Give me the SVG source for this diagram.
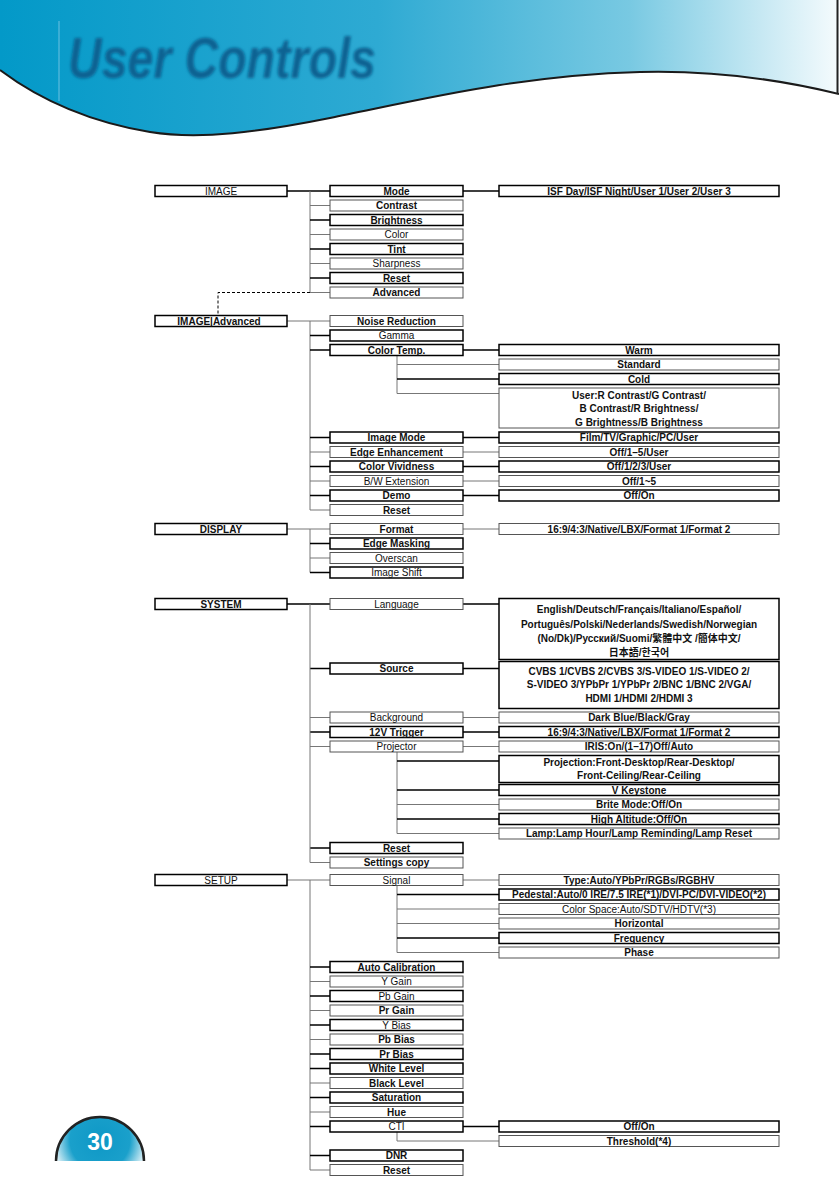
<svg xmlns="http://www.w3.org/2000/svg" width="839" height="1181" viewBox="0 0 839 1181">
<defs>
<linearGradient id="hdr" x1="0" y1="0" x2="1" y2="0">
<stop offset="0" stop-color="#0399c8"/>
<stop offset="0.45" stop-color="#2eaad3"/>
<stop offset="0.75" stop-color="#78c9e2"/>
<stop offset="1" stop-color="#f5fbfd"/>
</linearGradient>
<radialGradient id="pg" cx="100" cy="1140" r="50" gradientUnits="userSpaceOnUse">
<stop offset="0" stop-color="#0e98c6"/>
<stop offset="0.6" stop-color="#1aa0cb"/>
<stop offset="1" stop-color="#ffffff"/>
</radialGradient>
<filter id="blur" x="-10%" y="-20%" width="120%" height="140%"><feGaussianBlur stdDeviation="1.8"/></filter>
<style>
.k{fill:#fff;stroke:#000;stroke-width:1.5}
.g{fill:#fff;stroke:#555;stroke-width:1}
.ck{stroke:#000;stroke-width:1.5;fill:none}
.cg{stroke:#777;stroke-width:1;fill:none}
text{font-family:"Liberation Sans","Noto Sans CJK SC",Arial,sans-serif;font-size:10px;text-anchor:middle;fill:#111;font-weight:bold}
text.n{font-weight:normal}
</style>
</defs>

<g id="header">
<path d="M0,0 H839 V94 C790,82 720,70 640,72 C520,75 420,100 330,118 C260,132 200,140 150,132 C90,122 40,100 0,70 Z" fill="url(#hdr)"/>
<path d="M0,70 C40,100 90,122 150,132 C200,140 260,132 330,118 C420,100 520,75 640,72 C720,70 790,82 839,94" fill="none" stroke="#1a1a1a" stroke-width="2"/>
<line x1="837.5" y1="0" x2="837.5" y2="94" stroke="#222" stroke-width="2"/>
<line x1="59" y1="21" x2="59" y2="101" stroke="#6cc0e0" stroke-width="1"/>
<text x="222" y="78" filter="url(#blur)" style="font-family:'Liberation Sans',sans-serif;font-size:58px;font-style:italic;font-weight:bold;fill:#0a6292" textLength="308" lengthAdjust="spacingAndGlyphs">User Controls</text>
</g>

<g id="connectors">
<path class="ck" d="M287,191 H330 M463,191 H499"/>
<path class="cg" d="M310,191 V292.5"/>
<path class="cg" d="M310,205.5 H330 M310,234.5 H330 M310,263.5 H330 M310,292.5 H330"/>
<path class="ck" d="M310,220 H330 M310,249 H330 M310,278 H330"/>
<path d="M310,292.5 H218 V315.5" fill="none" stroke="#000" stroke-width="1" stroke-dasharray="3,2"/>

<path class="cg" d="M287,321 H330 M310,321 V510"/>
<path class="ck" d="M310,335.5 H330 M310,350 H330 M310,437.5 H330 M310,466.5 H330 M310,495.5 H330"/>
<path class="cg" d="M310,452 H330 M310,481 H330 M310,510 H330"/>
<path class="ck" d="M463,350 H499 M463,437.5 H499 M463,466.5 H499 M463,495.5 H499"/>
<path class="cg" d="M463,452 H499 M463,481 H499"/>
<path class="cg" d="M397,355.5 V393.5 M397,364.5 H499 M397,393.5 H499"/>
<path class="ck" d="M397,379 H499"/>

<path class="cg" d="M287,529 H330 M310,529 V572.5 M310,558 H330 M463,529 H499"/>
<path class="ck" d="M310,543.5 H330 M310,572.5 H330"/>

<path class="ck" d="M287,604 H330 M463,604 H499 M310,668.5 H330 M463,668.5 H499 M310,732 H330 M463,732 H499 M310,848 H330"/>
<path class="cg" d="M310,604 V862.5 M310,717.5 H330 M463,717.5 H499 M310,746.5 H330 M463,746.5 H499 M310,862.5 H330"/>
<path class="cg" d="M397,752 V833.5 M397,804.5 H499 M397,833.5 H499"/>
<path class="ck" d="M397,761 H499 M397,790 H499 M397,819 H499"/>

<path class="cg" d="M287,880 H330 M463,880 H499 M310,880 V1170"/>
<path class="cg" d="M397,885.5 V952.5 M397,909 H499 M397,923.5 H499 M397,952.5 H499"/>
<path class="ck" d="M397,894.5 H499 M397,938 H499"/>
<path class="ck" d="M310,967 H330 M310,996 H330 M310,1025 H330 M310,1054 H330 M310,1068.5 H330 M310,1097.5 H330 M310,1126.5 H330 M310,1155.5 H330 M463,1126.5 H499"/>
<path class="cg" d="M310,981.5 H330 M310,1010.5 H330 M310,1039.5 H330 M310,1083 H330 M310,1112 H330 M310,1170 H330"/>
<path class="cg" d="M397,1132 V1141 H499"/>
</g>

<g id="n-image"><rect class="k" x="155" y="185.5" width="132" height="11"/><text class="n" x="221" y="194.6">IMAGE</text></g>
<g id="n-mode"><rect class="k" x="330" y="185.5" width="133" height="11"/><text x="396.5" y="194.6">Mode</text></g>
<g id="n-contrast"><rect class="g" x="330" y="200" width="133" height="11"/><text x="396.5" y="209.1">Contrast</text></g>
<g id="n-brightness"><rect class="k" x="330" y="214.5" width="133" height="11"/><text x="396.5" y="223.6">Brightness</text></g>
<g id="n-color"><rect class="g" x="330" y="229" width="133" height="11"/><text class="n" x="396.5" y="238.1">Color</text></g>
<g id="n-tint"><rect class="k" x="330" y="243.5" width="133" height="11"/><text x="396.5" y="252.6">Tint</text></g>
<g id="n-sharpness"><rect class="g" x="330" y="258" width="133" height="11"/><text class="n" x="396.5" y="267.1">Sharpness</text></g>
<g id="n-reset1"><rect class="k" x="330" y="272.5" width="133" height="11"/><text x="396.5" y="281.6">Reset</text></g>
<g id="n-advanced"><rect class="g" x="330" y="287" width="133" height="11"/><text x="396.5" y="296.1">Advanced</text></g>
<g id="n-isf"><rect class="k" x="499" y="185.5" width="280" height="11"/><text x="639" y="194.6">ISF Day/ISF Night/User 1/User 2/User 3</text></g>

<g id="n-imgadv"><rect class="k" x="155" y="315.5" width="132" height="11"/><text x="219" y="324.6">IMAGE|Advanced</text></g>
<g id="n-noise"><rect class="g" x="330" y="315.5" width="133" height="11"/><text x="396.5" y="324.6">Noise Reduction</text></g>
<g id="n-gamma"><rect class="k" x="330" y="330" width="133" height="11"/><text class="n" x="396.5" y="339.1">Gamma</text></g>
<g id="n-colortemp"><rect class="k" x="330" y="344.5" width="133" height="11"/><text x="396.5" y="353.6">Color Temp.</text></g>
<g id="n-warm"><rect class="k" x="499" y="344.5" width="280" height="11"/><text x="639" y="353.6">Warm</text></g>
<g id="n-standard"><rect class="g" x="499" y="359" width="280" height="11"/><text x="639" y="368.1">Standard</text></g>
<g id="n-cold"><rect class="k" x="499" y="373.5" width="280" height="11"/><text x="639" y="382.6">Cold</text></g>
<g id="n-user"><rect class="g" x="499" y="388" width="280" height="40"/><text x="639" y="398.6">User:R Contrast/G Contrast/</text><text x="639" y="412.1">B Contrast/R Brightness/</text><text x="639" y="425.6">G Brightness/B Brightness</text></g>
<g id="n-imagemode"><rect class="k" x="330" y="432" width="133" height="11"/><text x="396.5" y="441.1">Image Mode</text></g>
<g id="n-film"><rect class="k" x="499" y="432" width="280" height="11"/><text x="639" y="441.1">Film/TV/Graphic/PC/User</text></g>
<g id="n-edge"><rect class="g" x="330" y="446.5" width="133" height="11"/><text x="396.5" y="455.6">Edge Enhancement</text></g>
<g id="n-edgeopt"><rect class="g" x="499" y="446.5" width="280" height="11"/><text x="639" y="455.6">Off/1–5/User</text></g>
<g id="n-vivid"><rect class="k" x="330" y="461" width="133" height="11"/><text x="396.5" y="470.1">Color Vividness</text></g>
<g id="n-vividopt"><rect class="k" x="499" y="461" width="280" height="11"/><text x="639" y="470.1">Off/1/2/3/User</text></g>
<g id="n-bw"><rect class="g" x="330" y="475.5" width="133" height="11"/><text class="n" x="396.5" y="484.6">B/W Extension</text></g>
<g id="n-bwopt"><rect class="g" x="499" y="475.5" width="280" height="11"/><text x="639" y="484.6">Off/1~5</text></g>
<g id="n-demo"><rect class="k" x="330" y="490" width="133" height="11"/><text x="396.5" y="499.1">Demo</text></g>
<g id="n-demoopt"><rect class="k" x="499" y="490" width="280" height="11"/><text x="639" y="499.1">Off/On</text></g>
<g id="n-reset2"><rect class="g" x="330" y="504.5" width="133" height="11"/><text x="396.5" y="513.6">Reset</text></g>

<g id="n-display"><rect class="k" x="155" y="523.5" width="132" height="11"/><text x="221" y="532.6">DISPLAY</text></g>
<g id="n-format"><rect class="g" x="330" y="523.5" width="133" height="11"/><text x="396.5" y="532.6">Format</text></g>
<g id="n-formatopt"><rect class="g" x="499" y="523.5" width="280" height="11"/><text x="639" y="532.6">16:9/4:3/Native/LBX/Format 1/Format 2</text></g>
<g id="n-edgemask"><rect class="k" x="330" y="538" width="133" height="11"/><text x="396.5" y="547.1">Edge Masking</text></g>
<g id="n-overscan"><rect class="g" x="330" y="552.5" width="133" height="11"/><text class="n" x="396.5" y="561.6">Overscan</text></g>
<g id="n-imageshift"><rect class="k" x="330" y="567" width="133" height="11"/><text class="n" x="396.5" y="576.1">Image Shift</text></g>

<g id="n-system"><rect class="k" x="155" y="598.5" width="132" height="11"/><text x="221" y="607.6">SYSTEM</text></g>
<g id="n-language"><rect class="g" x="330" y="598.5" width="133" height="11"/><text class="n" x="396.5" y="607.6">Language</text></g>
<g id="n-langopt"><rect class="k" x="499" y="598.5" width="280" height="61"/><text x="639" y="613">English/Deutsch/Français/Italiano/Español/</text><text x="639" y="627.5">Português/Polski/Nederlands/Swedish/Norwegian</text><text x="639" y="642">(No/Dk)/Русский/Suomi/繁體中文 /簡体中文/</text><text x="639" y="656">日本語/한국어</text></g>
<g id="n-source"><rect class="k" x="330" y="663" width="133" height="11"/><text x="396.5" y="672.1">Source</text></g>
<g id="n-sourceopt"><rect class="k" x="499" y="661.5" width="280" height="47"/><text x="639" y="674.6">CVBS 1/CVBS 2/CVBS 3/S-VIDEO 1/S-VIDEO 2/</text><text x="639" y="688.1">S-VIDEO 3/YPbPr 1/YPbPr 2/BNC 1/BNC 2/VGA/</text><text x="639" y="701.6">HDMI 1/HDMI 2/HDMI 3</text></g>
<g id="n-background"><rect class="g" x="330" y="712" width="133" height="11"/><text class="n" x="396.5" y="721.1">Background</text></g>
<g id="n-bgopt"><rect class="g" x="499" y="712" width="280" height="11"/><text x="639" y="721.1">Dark Blue/Black/Gray</text></g>
<g id="n-trigger"><rect class="k" x="330" y="726.5" width="133" height="11"/><text x="396.5" y="735.6">12V Trigger</text></g>
<g id="n-triggeropt"><rect class="k" x="499" y="726.5" width="280" height="11"/><text x="639" y="735.6">16:9/4:3/Native/LBX/Format 1/Format 2</text></g>
<g id="n-projector"><rect class="g" x="330" y="741" width="133" height="11"/><text class="n" x="396.5" y="750.1">Projector</text></g>
<g id="n-iris"><rect class="g" x="499" y="741" width="280" height="11"/><text x="639" y="750.1">IRIS:On/(1–17)Off/Auto</text></g>
<g id="n-projection"><rect class="k" x="499" y="755.5" width="280" height="27"/><text x="639" y="765.6">Projection:Front-Desktop/Rear-Desktop/</text><text x="639" y="779.1">Front-Ceiling/Rear-Ceiling</text></g>
<g id="n-vkey"><rect class="k" x="499" y="784.5" width="280" height="11"/><text x="639" y="793.6">V Keystone</text></g>
<g id="n-brite"><rect class="g" x="499" y="799" width="280" height="11"/><text x="639" y="808.1">Brite Mode:Off/On</text></g>
<g id="n-highalt"><rect class="k" x="499" y="813.5" width="280" height="11"/><text x="639" y="822.6">High Altitude:Off/On</text></g>
<g id="n-lamp"><rect class="g" x="499" y="828" width="280" height="11"/><text x="639" y="837.1">Lamp:Lamp Hour/Lamp Reminding/Lamp Reset</text></g>
<g id="n-reset3"><rect class="k" x="330" y="842.5" width="133" height="11"/><text x="396.5" y="851.6">Reset</text></g>
<g id="n-settings"><rect class="g" x="330" y="857" width="133" height="11"/><text x="396.5" y="866.1">Settings copy</text></g>

<g id="n-setup"><rect class="k" x="155" y="874.5" width="132" height="11"/><text class="n" x="221" y="883.6">SETUP</text></g>
<g id="n-signal"><rect class="g" x="330" y="874.5" width="133" height="11"/><text class="n" x="396.5" y="883.6">Signal</text></g>
<g id="n-type"><rect class="g" x="499" y="874.5" width="280" height="11"/><text x="639" y="883.6">Type:Auto/YPbPr/RGBs/RGBHV</text></g>
<g id="n-pedestal"><rect class="k" x="499" y="889" width="280" height="11"/><text x="639" y="898.1">Pedestal:Auto/0 IRE/7.5 IRE(*1)/DVI-PC/DVI-VIDEO(*2)</text></g>
<g id="n-colorspace"><rect class="g" x="499" y="903.5" width="280" height="11"/><text class="n" x="639" y="912.6">Color Space:Auto/SDTV/HDTV(*3)</text></g>
<g id="n-horizontal"><rect class="g" x="499" y="918" width="280" height="11"/><text x="639" y="927.1">Horizontal</text></g>
<g id="n-frequency"><rect class="k" x="499" y="932.5" width="280" height="11"/><text x="639" y="941.6">Frequency</text></g>
<g id="n-phase"><rect class="g" x="499" y="947" width="280" height="11"/><text x="639" y="956.1">Phase</text></g>
<g id="n-autocal"><rect class="k" x="330" y="961.5" width="133" height="11"/><text x="396.5" y="970.6">Auto Calibration</text></g>
<g id="n-ygain"><rect class="g" x="330" y="976" width="133" height="11"/><text class="n" x="396.5" y="985.1">Y Gain</text></g>
<g id="n-pbgain"><rect class="k" x="330" y="990.5" width="133" height="11"/><text class="n" x="396.5" y="999.6">Pb Gain</text></g>
<g id="n-prgain"><rect class="g" x="330" y="1005" width="133" height="11"/><text x="396.5" y="1014.1">Pr Gain</text></g>
<g id="n-ybias"><rect class="k" x="330" y="1019.5" width="133" height="11"/><text class="n" x="396.5" y="1028.6">Y Bias</text></g>
<g id="n-pbbias"><rect class="g" x="330" y="1034" width="133" height="11"/><text x="396.5" y="1043.1">Pb Bias</text></g>
<g id="n-prbias"><rect class="k" x="330" y="1048.5" width="133" height="11"/><text x="396.5" y="1057.6">Pr Bias</text></g>
<g id="n-white"><rect class="k" x="330" y="1063" width="133" height="11"/><text x="396.5" y="1072.1">White Level</text></g>
<g id="n-black"><rect class="g" x="330" y="1077.5" width="133" height="11"/><text x="396.5" y="1086.6">Black Level</text></g>
<g id="n-saturation"><rect class="k" x="330" y="1092" width="133" height="11"/><text x="396.5" y="1101.1">Saturation</text></g>
<g id="n-hue"><rect class="g" x="330" y="1106.5" width="133" height="11"/><text x="396.5" y="1115.6">Hue</text></g>
<g id="n-cti"><rect class="k" x="330" y="1121" width="133" height="11"/><text class="n" x="396.5" y="1130.1">CTI</text></g>
<g id="n-ctiopt"><rect class="k" x="499" y="1121" width="280" height="11"/><text x="639" y="1130.1">Off/On</text></g>
<g id="n-threshold"><rect class="g" x="499" y="1135.5" width="280" height="11"/><text x="639" y="1144.6">Threshold(*4)</text></g>
<g id="n-dnr"><rect class="k" x="330" y="1150" width="133" height="11"/><text x="396.5" y="1159.1">DNR</text></g>
<g id="n-reset4"><rect class="g" x="330" y="1164.5" width="133" height="11"/><text x="396.5" y="1173.6">Reset</text></g>

<g id="pagenum">
<path d="M56,1161 A44,44 0 0 1 144,1161 Z" fill="url(#pg)"/>
<path d="M56,1161 A44,44 0 0 1 144,1161" fill="none" stroke="#222" stroke-width="2.5"/>
<text x="100" y="1150" style="font-size:23px;fill:#fff;font-weight:bold">30</text>
</g>
</svg>
